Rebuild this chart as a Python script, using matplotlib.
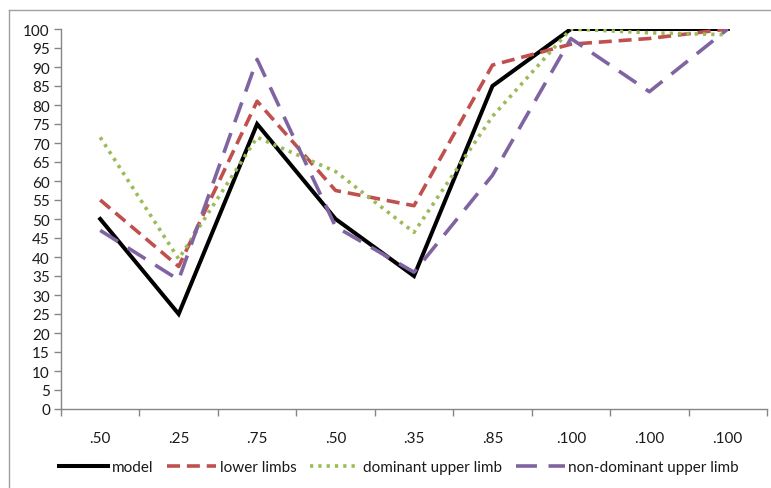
import matplotlib.pyplot as plt
from matplotlib.lines import Line2D
from matplotlib.ticker import FixedLocator, MultipleLocator

plt.rcParams['font.family'] = ['Lato', 'DejaVu Sans']

categories = [".50", ".25", ".75", ".50", ".35", ".85", ".100", ".100", ".100"]
model = [50, 25, 75, 50, 35, 85, 100, 100, 100]
lower_limbs = [55, 37.5, 81, 57.5, 53.5, 90.5, 96, 97.5, 100]
dominant_upper = [71.5, 39.5, 71.5, 62.5, 46.5, 77, 100, 99, 98.5]
non_dominant_upper = [47, 34, 92, 48, 36, 61.5, 97.5, 83.5, 100]

fig = plt.figure(figsize=(7.71, 4.89), dpi=100)
ax = fig.add_axes([61 / 771, 79 / 489, 706 / 771, 380 / 489])

x = range(len(categories))
lw = 2.6
ax.plot(x, model, color="#000000", lw=lw + 0.3, label="model", solid_joinstyle="miter")
ax.plot(x, lower_limbs, color="#C0504D", lw=lw, dashes=(3.6, 1.9), label="lower limbs")
ax.plot(x, dominant_upper, color="#9BBB59", lw=lw, dashes=(0.9, 1.4), label="dominant upper limb")
ax.plot(x, non_dominant_upper, color="#8064A2", lw=lw, dashes=(5.8, 3.2), label="non-dominant upper limb")

ax.set_xlim(-0.5, len(categories) - 0.5)
ax.set_ylim(0, 100)
ax.yaxis.set_major_locator(MultipleLocator(5))
ax.set_xticks(list(x))
ax.set_xticklabels(categories)
ax.xaxis.set_minor_locator(FixedLocator([i - 0.5 for i in range(len(categories) + 1)]))
ax.tick_params(axis="x", which="major", length=0, pad=16, labelsize=11, colors="#1a1a1a")
ax.tick_params(axis="x", which="minor", length=5, color="#868686", width=1)
ax.tick_params(axis="y", length=5, color="#868686", width=1, labelsize=11, labelcolor="#1a1a1a", pad=3)

for s in ["top", "right"]:
    ax.spines[s].set_visible(False)
for s in ["left", "bottom"]:
    ax.spines[s].set_color("#868686")
    ax.spines[s].set_linewidth(1)

fig.legend(loc="center", bbox_to_anchor=(399 / 771, 1 - 468 / 489), ncol=4, frameon=False,
           fontsize=11, handlelength=3.2, handletextpad=0.25, columnspacing=0.9,
           labelcolor="#1a1a1a")

# outer chart frame
fig.add_artist(Line2D([8.5 / 771, 8.5 / 771], [0, 1 - 10.5 / 489], transform=fig.transFigure,
                      color="#A0A0A0", lw=1))
fig.add_artist(Line2D([8.5 / 771, 1], [1 - 10.5 / 489, 1 - 10.5 / 489], transform=fig.transFigure,
                      color="#A0A0A0", lw=1))

fig.savefig("out.png", dpi=100)
